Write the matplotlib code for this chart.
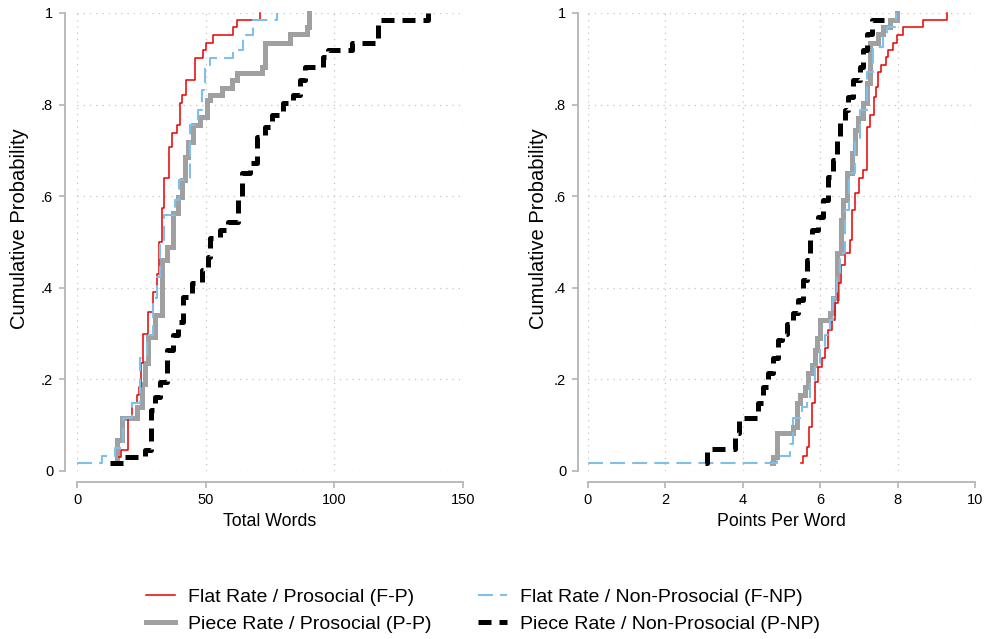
import numpy as np
import matplotlib
matplotlib.use("Agg")
import matplotlib.pyplot as plt

plt.rcParams['font.family'] = ['Liberation Sans', 'DejaVu Sans']

# ---- Total Words (left panel): step breakpoints and cumulative probability
fp_words_x = [16.5, 17.2, 19.9, 21.2, 23.2, 24.2, 24.7, 25.7, 27.7, 29.7, 31.0, 31.9, 32.9, 33.8, 35.8,
              36.8, 39.0, 40.0, 40.8, 42.2, 46.0, 49.1, 50.1, 53.0, 60.5, 62.0, 71.1]
fp_words_p = [0.031, 0.046, 0.115, 0.148, 0.165, 0.184, 0.235, 0.30, 0.348, 0.39, 0.43, 0.50, 0.574, 0.64, 0.708,
              0.739, 0.755, 0.803, 0.821, 0.854, 0.902, 0.919, 0.935, 0.953, 0.969, 0.985, 1.0]

fnp_words_x = [0.0, 9.6, 14.8, 18.0, 21.2, 24.5, 27.1, 29.7, 31.0, 32.3, 33.8, 38.1, 39.8, 43.9, 47.1,
               48.5, 49.7, 51.7, 60.7, 64.6, 68.3, 77.6]
fnp_words_p = [0.017, 0.032, 0.05, 0.115, 0.148, 0.246, 0.297, 0.377, 0.424, 0.497, 0.559, 0.592, 0.635, 0.755, 0.788,
               0.832, 0.886, 0.901, 0.919, 0.953, 0.985, 1.0]

pp_words_x = [14.4, 15.4, 17.4, 23.2, 25.1, 26.4, 27.7, 30.3, 32.9, 34.9, 37.4, 39.4, 40.7, 42.0, 43.3,
              45.2, 47.8, 50.4, 51.7, 56.2, 60.1, 62.1, 71.8, 73.1, 82.8, 89.3, 90.3]
pp_words_p = [0.017, 0.068, 0.115, 0.14, 0.19, 0.235, 0.293, 0.34, 0.46, 0.49, 0.563, 0.599, 0.635, 0.686, 0.719,
              0.755, 0.774, 0.81, 0.821, 0.836, 0.854, 0.87, 0.883, 0.934, 0.955, 0.97, 1.0]

pnp_words_x = [12.8, 18.0, 26.4, 28.8, 30.3, 32.3, 34.9, 37.4, 39.4, 41.3, 44.6, 48.5, 51.0, 51.7, 55.6,
               58.8, 62.7, 64.0, 67.2, 69.8, 73.1, 75.7, 80.2, 84.1, 86.7, 88.6, 95.7, 97.7, 106.8, 117.1, 136.5]
pnp_words_p = [0.017, 0.031, 0.046, 0.133, 0.162, 0.195, 0.264, 0.297, 0.326, 0.381, 0.41, 0.439, 0.468, 0.509, 0.526,
               0.544, 0.599, 0.65, 0.672, 0.73, 0.752, 0.777, 0.803, 0.821, 0.854, 0.883, 0.905, 0.919, 0.935, 0.985, 1.0]

# ---- Points Per Word (right panel)
fp_ppw_x = [5.5, 5.55, 5.65, 5.72, 5.78, 5.87, 5.95, 6.04, 6.12, 6.21, 6.3, 6.38, 6.47, 6.55, 6.64, 6.77,
            6.81, 6.9, 7.01, 7.11, 7.2, 7.29, 7.39, 7.44, 7.5, 7.56, 7.7, 7.76, 7.89, 7.98, 8.13, 8.65, 9.28]
fp_ppw_p = [0.017, 0.033, 0.053, 0.097, 0.148, 0.195, 0.228, 0.246, 0.268, 0.308, 0.33, 0.366, 0.41, 0.45, 0.475, 0.504,
            0.57, 0.606, 0.639, 0.657, 0.752, 0.777, 0.817, 0.839, 0.872, 0.886, 0.903, 0.919, 0.935, 0.953, 0.969, 0.985, 1.0]

fnp_ppw_x = [0.0, 4.88, 5.22, 5.3, 5.52, 5.65, 5.74, 5.87, 6.0, 6.12, 6.25, 6.34, 6.43, 6.51, 6.64,
             6.75, 6.9, 7.03, 7.2, 7.37, 7.63, 7.72, 7.95]
fnp_ppw_p = [0.017, 0.033, 0.06, 0.115, 0.14, 0.162, 0.199, 0.228, 0.268, 0.297, 0.33, 0.377, 0.432, 0.476, 0.57,
             0.65, 0.72, 0.788, 0.872, 0.926, 0.955, 0.97, 1.0]

pp_ppw_x = [4.75, 4.79, 4.88, 5.3, 5.39, 5.48, 5.61, 5.69, 5.78, 5.87, 5.93, 6.0, 6.25, 6.34, 6.43,
            6.53, 6.59, 6.7, 6.81, 6.9, 6.98, 7.11, 7.2, 7.29, 7.5, 7.63, 7.8, 7.99]
pp_ppw_p = [0.017, 0.031, 0.082, 0.097, 0.148, 0.166, 0.184, 0.213, 0.231, 0.264, 0.29, 0.33, 0.344, 0.377, 0.475,
            0.548, 0.592, 0.65, 0.694, 0.745, 0.77, 0.803, 0.847, 0.934, 0.955, 0.97, 0.985, 1.0]

pnp_ppw_x = [3.02, 3.07, 3.8, 3.9, 4.4, 4.53, 4.66, 4.79, 4.92, 5.0, 5.13, 5.3, 5.43, 5.56, 5.65, 5.74,
             5.78, 5.95, 6.08, 6.21, 6.34, 6.43, 6.51, 6.64, 6.73, 6.86, 7.03, 7.11, 7.2, 7.33, 7.67]
pnp_ppw_p = [0.017, 0.047, 0.082, 0.115, 0.148, 0.184, 0.213, 0.246, 0.286, 0.3, 0.322, 0.344, 0.373, 0.417, 0.46, 0.504,
             0.526, 0.555, 0.592, 0.643, 0.679, 0.723, 0.759, 0.788, 0.817, 0.854, 0.883, 0.919, 0.955, 0.985, 1.0]

labels = ["Flat Rate / Prosocial (F-P)", "Piece Rate / Prosocial (P-P)",
          "Flat Rate / Non-Prosocial (F-NP)", "Piece Rate / Non-Prosocial (P-NP)"]

AXCOL = '#b4b4b4'


def style_ax(ax, xmax, xstep, xlabel, yoff, ylab_x):
    ax.set_xlim(0, xmax)
    ax.set_ylim(0, 1)
    for s in ['top', 'right']:
        ax.spines[s].set_visible(False)
    ax.spines['left'].set_position(('outward', yoff))
    ax.spines['bottom'].set_position(('outward', 8))
    for s in ['left', 'bottom']:
        ax.spines[s].set_color(AXCOL)
        ax.spines[s].set_linewidth(1.3)
    ax.set_xticks(np.arange(0, xmax + xstep / 2, xstep))
    ax.set_yticks([0, 0.2, 0.4, 0.6, 0.8, 1.0])
    ax.set_yticklabels(['0', '.2', '.4', '.6', '.8', '1'])
    ax.tick_params(colors=AXCOL, labelcolor='black', labelsize=10.5, length=4.5, width=1.2)
    ax.tick_params(axis='x', pad=3)
    ax.tick_params(axis='y', pad=4)
    ax.grid(True, linestyle=(0, (1, 4)), color='#c4c4c4', linewidth=0.9)
    ax.set_axisbelow(True)
    ax.set_xlabel(xlabel, fontsize=12.8, labelpad=5)
    ax.set_ylabel('Cumulative Probability', fontsize=14.5)
    ax.yaxis.set_label_coords(ylab_x, 0.53)


def draw(ax, fp, fnp, pp, pnp):
    h = []
    h += ax.step(pp[0], pp[1], where='post', color='#a0a0a0', lw=3.6, clip_on=False,
                 solid_joinstyle='miter')
    h += ax.step(fp[0], fp[1], where='post', color='#e60000', lw=1.1, clip_on=False)
    l3 = ax.step(fnp[0], fnp[1], where='post', color='#7fbfe8', lw=1.5, clip_on=False)
    l3[0].set_dashes((7.2, 3.4))
    h += l3
    l4 = ax.step(pnp[0], pnp[1], where='post', color='black', lw=3.6, clip_on=False)
    l4[0].set_dashes((2.6, 1.6))
    h += l4
    # order: F-P, P-P, F-NP, P-NP
    return [h[1], h[0], h[2], h[3]]


fig = plt.figure(figsize=(9.84, 6.39), dpi=100)
ax1 = fig.add_axes([77 / 984, 168 / 639, 386 / 984, 458 / 639])
ax2 = fig.add_axes([588 / 984, 168 / 639, 387 / 984, 458 / 639])

handles = draw(ax1, (fp_words_x, fp_words_p), (fnp_words_x, fnp_words_p),
               (pp_words_x, pp_words_p), (pnp_words_x, pnp_words_p))
draw(ax2, (fp_ppw_x, fp_ppw_p), (fnp_ppw_x, fnp_ppw_p),
     (pp_ppw_x, pp_ppw_p), (pnp_ppw_x, pnp_ppw_p))

style_ax(ax1, 150, 50, 'Total Words', 8.6, -0.124)
style_ax(ax2, 10, 2, 'Points Per Word', 7.2, -0.103)

leg = fig.legend(handles, labels, ncol=2, loc='upper left',
                 bbox_to_anchor=(146 / 984, 1 - 588 / 639), bbox_transform=fig.transFigure,
                 frameon=False, fontsize=14,
                 handlelength=1.5, handletextpad=0.65, columnspacing=2.4,
                 labelspacing=0.5, borderpad=0, borderaxespad=0)

fig.savefig('out.png', dpi=100)
